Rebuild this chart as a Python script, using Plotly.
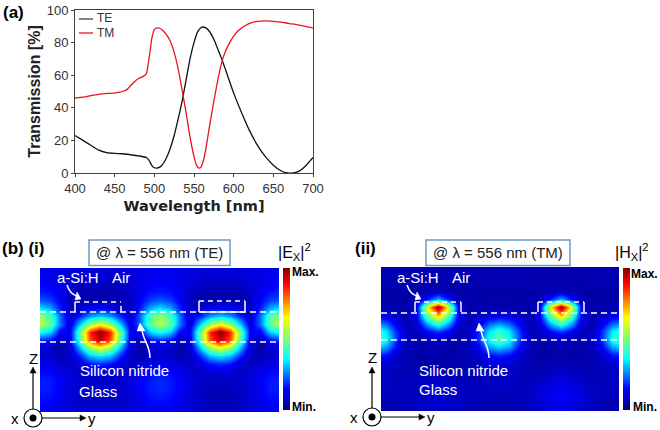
import plotly.graph_objects as go

W, H = 660, 430

# (a) transmission spectra
te_wl = [400, 410, 420, 430, 440, 450, 460, 470, 480, 490, 493, 497, 500, 503, 507, 510, 515, 520, 525, 530,
         535, 540, 545, 550, 555, 560, 565, 570, 575, 580, 585, 590, 600, 610, 620, 630, 640, 650, 660, 668,
         675, 682, 690, 700]
te_val = [23, 20, 17, 14, 12.5, 12, 11.8, 11.2, 10.5, 9.5, 8, 4.5, 3.2, 3, 3.6, 5, 9, 15, 23, 33,
          44, 57, 70, 80, 87, 89.5, 89, 86.5, 82, 76, 70, 63, 49, 37, 26, 17, 10, 4.8, 1.2, 0,
          0, 1, 4, 9.5]
tm_wl = [400, 410, 420, 430, 440, 450, 455, 460, 465, 470, 475, 480, 485, 490, 492, 495, 497, 500, 503, 507,
         510, 515, 520, 525, 530, 535, 540, 545, 550, 553, 556, 559, 562, 565, 570, 575, 580, 585, 590, 595,
         600, 605, 610, 615, 620, 630, 640, 650, 660, 670, 680, 690, 700]
tm_val = [46, 46.5, 47.5, 48.2, 48.8, 49, 49.5, 50, 51, 53.5, 56, 58, 59, 61, 66, 76, 83, 88, 89, 88.8,
          87.7, 85, 81, 74, 64, 51, 37, 22, 10, 5, 3, 3.8, 8, 15, 30, 44, 57, 68, 75, 80,
          84, 87, 89, 90.5, 91.8, 93, 93.3, 93, 92.5, 91.7, 91, 90, 89]

# (b) field maps in % of the colour range, estimated cell by cell
ex_field = [
    [12, 12, 12, 11, 11, 11, 11, 11, 11, 11, 12, 12, 13, 12, 12, 11, 11, 11, 11, 11, 11, 11, 12, 12, 12],
    [13, 13, 12, 11, 10, 10, 10, 10, 10, 11, 12, 13, 13, 13, 12, 11, 10, 10, 10, 10, 10, 11, 12, 13, 13],
    [15, 14, 12, 10, 8, 8, 8, 8, 8, 10, 12, 14, 15, 14, 12, 10, 8, 8, 8, 8, 8, 10, 12, 14, 15],
    [17, 16, 13, 9, 6, 5, 5, 5, 6, 9, 13, 16, 17, 16, 13, 9, 6, 5, 5, 5, 6, 9, 13, 16, 17],
    [22, 20, 14, 8, 6, 6, 6, 6, 6, 8, 14, 20, 22, 20, 14, 8, 6, 6, 6, 6, 6, 8, 14, 20, 22],
    [34, 29, 17, 8, 10, 13, 14, 13, 10, 8, 17, 29, 34, 29, 17, 8, 10, 13, 14, 13, 10, 8, 17, 29, 34],
    [53, 44, 24, 9, 18, 28, 32, 28, 18, 9, 24, 44, 53, 44, 24, 9, 18, 28, 32, 28, 18, 9, 24, 44, 53],
    [57, 47, 24, 11, 32, 52, 63, 52, 32, 11, 24, 47, 57, 47, 24, 11, 32, 52, 63, 52, 32, 11, 24, 47, 57],
    [38, 32, 14, 14, 48, 86, 100, 86, 48, 14, 14, 32, 38, 32, 14, 14, 48, 86, 100, 86, 48, 14, 14, 32, 38],
    [18, 16, 7, 13, 45, 82, 94, 82, 45, 13, 7, 16, 18, 16, 7, 13, 45, 82, 94, 82, 45, 13, 7, 16, 18],
    [10, 9, 4, 10, 30, 52, 62, 52, 30, 10, 4, 9, 10, 9, 4, 10, 30, 52, 62, 52, 30, 10, 4, 9, 10],
    [10, 9, 6, 8, 18, 30, 34, 30, 18, 8, 6, 9, 10, 9, 6, 8, 18, 30, 34, 30, 18, 8, 6, 9, 10],
    [12, 12, 10, 8, 11, 16, 18, 16, 11, 8, 10, 12, 12, 12, 10, 8, 11, 16, 18, 16, 11, 8, 10, 12, 12],
    [15, 15, 13, 10, 8, 10, 11, 10, 8, 10, 13, 15, 16, 15, 13, 10, 8, 10, 11, 10, 8, 10, 13, 15, 15],
    [17, 17, 14, 11, 9, 9, 9, 9, 9, 11, 14, 17, 18, 17, 14, 11, 9, 8, 8, 8, 9, 11, 14, 17, 17],
    [17, 17, 14, 11, 9, 9, 9, 9, 9, 11, 14, 17, 18, 17, 14, 11, 8, 7, 7, 7, 8, 11, 14, 17, 17],
    [16, 16, 13, 10, 9, 8, 8, 8, 9, 10, 13, 16, 17, 16, 13, 10, 8, 6, 6, 6, 8, 10, 13, 16, 16],
    [15, 15, 12, 10, 9, 9, 9, 9, 9, 10, 12, 15, 15, 15, 12, 10, 8, 7, 7, 7, 8, 10, 12, 15, 15],
    [14, 13, 12, 10, 10, 10, 10, 10, 10, 10, 12, 13, 14, 13, 12, 10, 9, 9, 9, 9, 9, 10, 12, 13, 14],
]
hx_field = [
    [6, 6, 6, 6, 6, 6, 6, 6, 6, 6, 6, 6, 6, 6, 6, 6, 6, 6, 6, 6, 6, 6, 6, 6, 6],
    [6, 6, 6, 6, 6, 6, 6, 6, 6, 6, 6, 6, 6, 6, 6, 6, 6, 6, 6, 6, 6, 6, 6, 6, 6],
    [6, 6, 6, 6, 5, 5, 5, 5, 5, 6, 6, 6, 6, 6, 6, 6, 5, 5, 5, 5, 5, 6, 6, 6, 6],
    [5, 5, 5, 5, 5, 6, 7, 6, 5, 5, 5, 5, 5, 5, 5, 5, 5, 6, 7, 6, 5, 5, 5, 5, 5],
    [5, 5, 5, 5, 6, 16, 30, 16, 6, 5, 5, 5, 5, 5, 5, 5, 6, 16, 30, 16, 6, 5, 5, 5, 5],
    [6, 6, 5, 5, 14, 64, 100, 64, 14, 5, 5, 6, 6, 6, 5, 5, 14, 64, 100, 64, 14, 5, 5, 6, 6],
    [12, 11, 8, 6, 15, 48, 72, 48, 15, 6, 8, 11, 12, 11, 8, 6, 15, 48, 72, 48, 15, 6, 8, 11, 12],
    [26, 22, 12, 6, 11, 30, 44, 30, 11, 6, 12, 22, 26, 22, 12, 6, 11, 30, 44, 30, 11, 6, 12, 22, 26],
    [42, 34, 18, 7, 7, 15, 20, 15, 7, 7, 18, 34, 42, 34, 18, 7, 7, 15, 20, 15, 7, 7, 18, 34, 42],
    [46, 38, 20, 8, 6, 7, 9, 7, 6, 8, 20, 38, 46, 38, 20, 8, 6, 7, 9, 7, 6, 8, 20, 38, 46],
    [32, 28, 14, 7, 5, 5, 6, 5, 5, 7, 14, 28, 32, 28, 14, 7, 5, 5, 6, 5, 5, 7, 14, 28, 32],
    [18, 16, 9, 6, 5, 5, 5, 5, 5, 6, 9, 16, 18, 16, 9, 6, 5, 5, 5, 5, 5, 6, 9, 16, 18],
    [11, 10, 8, 6, 5, 5, 5, 5, 5, 6, 8, 10, 11, 10, 8, 6, 5, 6, 6, 6, 5, 6, 8, 10, 11],
    [9, 8, 7, 6, 6, 6, 6, 6, 6, 6, 7, 8, 9, 8, 7, 6, 6, 7, 8, 7, 6, 6, 7, 8, 9],
    [8, 8, 7, 7, 7, 8, 8, 8, 7, 7, 7, 8, 8, 8, 7, 7, 8, 10, 11, 10, 8, 7, 7, 8, 8],
    [8, 8, 7, 7, 8, 9, 10, 9, 8, 7, 7, 8, 8, 8, 7, 8, 10, 12, 13, 12, 10, 8, 7, 8, 8],
    [7, 7, 7, 7, 8, 9, 10, 9, 8, 7, 7, 7, 7, 7, 7, 8, 11, 13, 14, 13, 11, 8, 7, 7, 7],
    [6, 6, 6, 7, 8, 9, 9, 9, 8, 7, 6, 6, 6, 6, 6, 8, 10, 12, 13, 12, 10, 8, 6, 6, 6],
    [6, 6, 6, 6, 7, 8, 8, 8, 7, 6, 6, 6, 6, 6, 6, 7, 9, 11, 12, 11, 9, 7, 6, 6, 6],
]
field_cols = list(range(25))
field_rows = list(range(19))

jet = [[0, "#00007f"], [0.15, "#0000ff"], [0.36, "#00ffff"], [0.5, "#7dff7a"],
       [0.65, "#ffff00"], [0.89, "#ff0000"], [1, "#7f0000"]]


def px(x):
    return x / W


def py(y):
    return 1 - y / H


def box(x0, x1, y0, y1):
    return dict(domain=[px(x0), px(x1)]), dict(domain=[py(y1), py(y0)])


def colorbar(x0):
    return dict(x=px(x0), xanchor="left", y=py(268), yanchor="top", len=142 / H, lenmode="fraction",
                thickness=7, thicknessmode="pixels", outlinewidth=0, xpad=0, ypad=0,
                showticklabels=False, ticks="")


fig = go.Figure()

fig.add_trace(go.Scatter(x=te_wl, y=te_val, mode="lines", line=dict(color="#111111", width=1.3, shape="spline", smoothing=0.5),
                         xaxis="x", yaxis="y", showlegend=False))
fig.add_trace(go.Scatter(x=tm_wl, y=tm_val, mode="lines", line=dict(color="#e8141c", width=1.3, shape="spline", smoothing=0.5),
                         xaxis="x", yaxis="y", showlegend=False))
fig.add_trace(go.Heatmap(z=ex_field, x=field_cols, y=field_rows, zmin=0, zmax=100, zsmooth="best", colorscale=jet,
                         colorbar=colorbar(283), xaxis="x2", yaxis="y2"))
fig.add_trace(go.Heatmap(z=hx_field, x=field_cols, y=field_rows, zmin=0, zmax=100, zsmooth="best", colorscale=jet,
                         colorbar=colorbar(623), xaxis="x3", yaxis="y3"))

shapes = []
annotations = []


def line(x0, y0, x1, y1, color="white", width=1.5, dash="solid"):
    shapes.append(dict(type="line", xref="paper", yref="paper", x0=px(x0), y0=py(y0), x1=px(x1), y1=py(y1),
                       line=dict(color=color, width=width, dash=dash)))


def label(x, y, text, size=15, color="black", bold=False, anchor="left"):
    # annotations carry a little padding of their own
    if anchor == "left":
        x -= 2
    annotations.append(dict(xref="paper", yref="paper", x=px(x), y=py(y), text=text, showarrow=False,
                            xanchor=anchor, yanchor="middle", align=anchor,
                            font=dict(family="Liberation Sans", size=size, color=color, weight="bold" if bold else "normal")))


def tri(pts, color):
    h = "M{},{} L{},{} L{},{} Z".format(*[v for a, b in pts for v in (px(a), py(b))])
    shapes.append(dict(type="path", xref="paper", yref="paper", path=h, fillcolor=color, line=dict(color=color, width=0.5)))


def curve_arrow(path_pts, head_pts):
    p = "M{},{} C{},{} {},{} {},{}".format(*[v for a, b in path_pts for v in (px(a), py(b))])
    shapes.append(dict(type="path", xref="paper", yref="paper", path=p, line=dict(color="white", width=1.5)))
    tri(head_pts, "white")


def axes_glyph(cx, cy, y_end):
    line(cx, 372, cx, cy, color="black", width=1.2)
    line(cx, cy, y_end - 4, cy, color="black", width=1.2)
    tri([(cx, 367), (cx - 3, 373), (cx + 3, 373)], "black")
    tri([(y_end, cy), (y_end - 6, cy - 3), (y_end - 6, cy + 3)], "black")
    shapes.append(dict(type="circle", xref="paper", yref="paper", x0=px(cx - 9), x1=px(cx + 9), y0=py(cy - 9), y1=py(cy + 9),
                       line=dict(color="black", width=1.2), fillcolor="white"))
    shapes.append(dict(type="circle", xref="paper", yref="paper", x0=px(cx - 3.5), x1=px(cx + 3.5), y0=py(cy - 3.5), y1=py(cy + 3.5),
                       line=dict(color="black", width=0), fillcolor="black"))


# legend of panel (a)
line(79, 19, 93, 19, color="#222222", width=1.1)
line(79, 33, 93, 33, color="#e8141c", width=1.3)
label(97, 18, "TE", size=12, color="#333333")
label(97, 33, "TM", size=12, color="#333333")

# panel letters
label(3, 12, "(a)", size=17, bold=True)
label(2, 248, "(b) (i)", size=17, bold=True)
label(355, 248, "(ii)", size=17, bold=True)

# left map overlays
line(40, 312, 279, 312, dash="6px,4px")
line(40, 342, 279, 342, dash="6px,4px")
line(75, 302, 121, 302, dash="5px,4px")
line(75, 302, 75, 312)
line(121, 306, 121, 312)
line(199, 301, 245, 301, dash="5px,4px")
line(199, 301, 199, 312)
line(245, 301, 245, 312)
line(199, 312, 245, 312)

# right map overlays
line(381, 313, 619, 313, dash="6px,4px")
line(381, 340, 619, 340, dash="6px,4px")
line(415, 302, 461, 302, dash="5px,4px")
line(415, 302, 415, 312)
line(461, 302, 461, 312)
line(538, 302, 584, 302, dash="5px,4px")
line(538, 302, 538, 312)
line(584, 302, 584, 312)

# arrows on the maps
curve_arrow([(67, 285), (69, 291), (73, 295), (77, 296)], [(81, 299), (75, 300), (77, 292)])
curve_arrow([(150, 358), (150, 345), (143, 340), (142, 330)], [(140, 323), (145, 331), (137, 331)])
curve_arrow([(407, 285), (409, 291), (413, 295), (417, 296)], [(421, 299), (415, 300), (417, 292)])
curve_arrow([(489, 358), (489, 345), (482, 340), (481, 330)], [(479, 323), (484, 331), (476, 331)])

# text on the maps
label(57, 277, "a-Si:H", color="white")
label(112, 277, "Air", color="white")
label(80, 370, "Silicon nitride", color="white")
label(79, 391, "Glass", color="white")
label(397, 277, "a-Si:H", color="white")
label(452, 277, "Air", color="white")
label(419, 370, "Silicon nitride", color="white")
label(419, 389, "Glass", color="white")

# colour bar captions
label(278, 252, "|E<sub>X</sub>|<sup>2</sup>", size=16)
label(615, 252, "|H<sub>X</sub>|<sup>2</sup>", size=16)
label(292, 272, "Max.", size=12, bold=True)
label(292, 407, "Min.", size=12, bold=True)
label(631, 274, "Max.", size=12, bold=True)
label(633, 407, "Min.", size=12, bold=True)

# boxed captions
for x0, x1, text in [(89, 230, "@ λ = 556 nm (TE)"), (426, 570, "@ λ = 556 nm (TM)")]:
    shapes.append(dict(type="rect", xref="paper", yref="paper", x0=px(x0), x1=px(x1), y0=py(240), y1=py(265.5),
                       line=dict(color="#6b9ac4", width=1.5), fillcolor="white"))
    label((x0 + x1) / 2, 253, text, size=15, color="#222222", anchor="center")

# coordinate glyphs
axes_glyph(33, 418, 86)
axes_glyph(372, 417, 425)
label(33, 358, "Z", anchor="center")
label(15, 418, "x", anchor="center")
label(92, 418, "y", anchor="center")
label(372, 357, "Z", anchor="center")
label(354, 417, "x", anchor="center")
label(431, 417, "y", anchor="center")

xa, ya = box(75, 313, 10, 173)
x2, y2 = box(40, 279, 268, 412)
x3, y3 = box(381, 619, 267, 411)

fig.update_layout(
    width=W, height=H, margin=dict(l=0, r=0, t=0, b=0, autoexpand=False), paper_bgcolor="white", plot_bgcolor="white",
    font=dict(family="Liberation Sans", color="#333333"), showlegend=False, shapes=shapes, annotations=annotations,
    xaxis=dict(**xa, anchor="y", range=[400, 700], tickvals=[400, 450, 500, 550, 600, 650, 700], ticks="outside", ticklen=3,
               tickcolor="#444444", tickfont=dict(size=13), showgrid=False, zeroline=False, mirror=True, showline=True, linecolor="#444444", linewidth=1,
               title=dict(text="<b>Wavelength [nm]</b>", font=dict(family="DejaVu Sans", size=14.5, color="#222222"), standoff=6)),
    yaxis=dict(**ya, anchor="x", range=[0, 100], tickvals=[0, 20, 40, 60, 80, 100], ticks="outside", ticklen=3,
               tickcolor="#444444", tickfont=dict(size=13), showgrid=False, zeroline=False, mirror=True, showline=True, linecolor="#444444", linewidth=1,
               title=dict(text="<b>Transmission [%]</b>", font=dict(size=16, color="#222222"), standoff=2)),
    xaxis2=dict(**x2, anchor="y2", range=[0, 23.9], visible=False),
    yaxis2=dict(**y2, anchor="x2", range=[18, 0], visible=False),
    xaxis3=dict(**x3, anchor="y3", range=[0.49, 23.7], visible=False),
    yaxis3=dict(**y3, anchor="x3", range=[18, 0], visible=False),
)

# the page's default body margin would push the figure off the window
fig.write_html("out.html", config=dict(displayModeBar=False), post_script="document.body.style.margin='0';")
